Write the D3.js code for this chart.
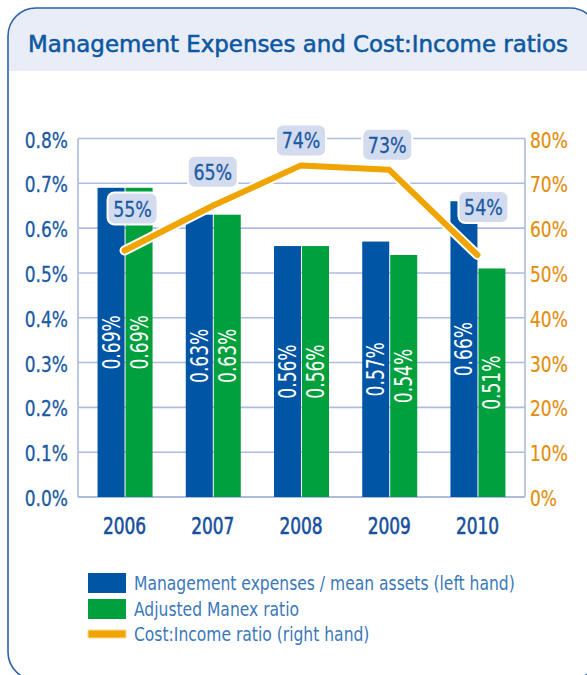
<!DOCTYPE html>
<html><head><meta charset="utf-8">
<script src="https://cdn.jsdelivr.net/npm/d3@7"></script>
<style>
html,body{margin:0;padding:0;background:#fff;}
svg{display:block;}
</style></head>
<body>
<svg id="chart" width="587" height="675"></svg>
<script>
const years = ["2006","2007","2008","2009","2010"];
const manex = [0.69, 0.63, 0.56, 0.57, 0.66];
const adjManex = [0.69, 0.63, 0.56, 0.54, 0.51];
const costIncome = [55, 65, 74, 73, 54];
const leftTicks = [0, 0.1, 0.2, 0.3, 0.4, 0.5, 0.6, 0.7, 0.8];
const rightTicks = [0, 10, 20, 30, 40, 50, 60, 70, 80];
const legendLabels = ["Management expenses / mean assets (left hand)", "Adjusted Manex ratio", "Cost:Income ratio (right hand)"];
const labelDx = [8, 0, 0, -2, 6];
const labelDy = [-42, -34, -25, -25, -48];

const C = {blue:"#0055a4", green:"#00a03c", orange:"#f0a400", axisOrange:"#e48d0a",
  text:"#1a5aa3", grid:"#aebbe0", header:"#e9edf7", border:"#2c62aa", bubble:"#d3dbef", legendText:"#3b78bb"};
const NARROW = "'DejaVu Sans Condensed','Liberation Sans Narrow',sans-serif";

// horizontally condense a text element (keeps its anchor point)
function condense(sel, sx) {
  sel.each(function(){
    const t = d3.select(this);
    const xv = +t.attr("x") || 0;
    const yv = +t.attr("y") || 0;
    t.attr("x", 0).attr("y", 0);
    const prev = t.attr("transform") || "";
    t.attr("transform", `${prev} translate(${xv},${yv}) scale(${sx},1)`);
  });
}

const svg = d3.select("#chart");
// panel
svg.append("rect").attr("x",8).attr("y",8).attr("width",590).attr("height",672).attr("rx",28).attr("fill","#fff");
svg.append("path").attr("d","M8,71 L8,36 Q8,8 36,8 L570,8 Q598,8 598,36 L598,71 Z").attr("fill",C.header);
svg.append("rect").attr("x",8).attr("y",8).attr("width",590).attr("height",672).attr("rx",28)
  .attr("fill","none").attr("stroke",C.border).attr("stroke-width",1.6);

svg.append("text").attr("x",298).attr("y",52).attr("text-anchor","middle")
  .attr("font-family","'DejaVu Sans Condensed','DejaVu Sans',sans-serif").attr("font-size",22.5)
  .attr("textLength",540).attr("lengthAdjust","spacingAndGlyphs")
  .attr("fill","#0d58a2").attr("stroke","#0d58a2").attr("stroke-width",0.5)
  .text("Management Expenses and Cost:Income ratios");

const plotL = 78, plotR = 525;
const x = d3.scaleBand().domain(years).range([80, 522]).paddingInner(0.39).paddingOuter(0.2);
const yL = d3.scaleLinear().domain([0, 0.8]).range([497, 138.5]);
const yR = d3.scaleLinear().domain([0, 80]).range([497, 138.5]);
const bw = 27;

// grid
svg.append("g").selectAll("line").data(leftTicks).join("line")
  .attr("x1",plotL).attr("x2",plotR).attr("y1",d=>yL(d)).attr("y2",d=>yL(d))
  .attr("stroke",C.grid).attr("stroke-width",d=>d===0?2.2:1.6);
svg.append("line").attr("x1",plotL).attr("x2",plotL).attr("y1",yL(0.8)).attr("y2",yL(0)).attr("stroke",C.grid).attr("stroke-width",1.6);
svg.append("line").attr("x1",plotR).attr("x2",plotR).attr("y1",yL(0.8)).attr("y2",yL(0)).attr("stroke",C.grid).attr("stroke-width",1.6);

// axes labels via d3 axes
const axL = svg.append("g").attr("transform",`translate(${plotL},0)`)
  .call(d3.axisLeft(yL).tickValues(leftTicks).tickSize(0).tickPadding(10).tickFormat(d=>d3.format(".1f")(d)+"%"));
axL.select(".domain").remove();
axL.selectAll("text").attr("font-family",NARROW).attr("font-size",21.5).attr("fill",C.text)
  .attr("stroke",C.text).attr("stroke-width",0.3).attr("dy","0.4em");
condense(axL.selectAll("text"), 0.88);

const axR = svg.append("g").attr("transform",`translate(${plotR},0)`)
  .call(d3.axisRight(yR).tickValues(rightTicks).tickSize(0).tickPadding(5).tickFormat(d=>d+"%"));
axR.select(".domain").remove();
axR.selectAll("text").attr("font-family",NARROW).attr("font-size",21.5).attr("fill",C.axisOrange)
  .attr("stroke",C.axisOrange).attr("stroke-width",0.2).attr("dy","0.4em");
condense(axR.selectAll("text"), 0.88);

const axB = svg.append("g").attr("transform",`translate(0,${yL(0)})`)
  .call(d3.axisBottom(x).tickSize(0).tickPadding(21));
axB.select(".domain").remove();
axB.selectAll("text").attr("font-family",NARROW).attr("font-size",23).attr("fill","#17509c")
  .attr("stroke","#17509c").attr("stroke-width",0.6);
condense(axB.selectAll("text"), 0.82);

// bars
const cx = d => x(d) + x.bandwidth()/2;
const series = [{vals:manex,color:C.blue,off:-bw},{vals:adjManex,color:C.green,off:1}];
series.forEach(s=>{
  const g = svg.append("g");
  g.selectAll("rect").data(years).join("rect")
    .attr("x",(d)=>cx(d)+s.off).attr("width",bw)
    .attr("y",(d,i)=>yL(s.vals[i])).attr("height",(d,i)=>yL(0)-yL(s.vals[i]))
    .attr("fill",s.color);
  g.selectAll("text").data(years).join("text")
    .attr("transform",(d,i)=>`translate(${cx(d)+s.off+bw/2+8.5},${(yL(s.vals[i])+yL(0))/2}) rotate(-90) scale(0.76,1)`)
    .attr("text-anchor","middle")
    .attr("font-family",NARROW).attr("font-size",25).attr("fill","#fff")
    .text((d,i)=>d3.format(".2f")(s.vals[i])+"%");
});

// line
const line = d3.line().x(d=>cx(d.y)).y(d=>yR(d.v));
const pts = years.map((y,i)=>({y, v:costIncome[i]}));
svg.append("path").datum(pts).attr("d",line).attr("fill","none")
  .attr("stroke","#fff").attr("stroke-width",10).attr("stroke-linejoin","round").attr("stroke-linecap","round");
svg.append("path").datum(pts).attr("d",line).attr("fill","none")
  .attr("stroke",C.orange).attr("stroke-width",6).attr("stroke-linejoin","round").attr("stroke-linecap","round");

// bubbles
const bg = svg.append("g").selectAll("g").data(pts).join("g")
  .attr("transform",(d,i)=>`translate(${cx(d.y)+labelDx[i]},${yR(d.v)+labelDy[i]})`);
bg.append("rect").attr("x",-25).attr("y",-16).attr("width",50).attr("height",32).attr("rx",7)
  .attr("fill",C.bubble).attr("stroke","#fff").attr("stroke-width",2);
bg.append("text").attr("text-anchor","middle").attr("transform","translate(0,8) scale(0.88,1)")
  .attr("font-family",NARROW).attr("font-size",22).attr("fill",C.text)
  .attr("stroke",C.text).attr("stroke-width",0.3)
  .text(d=>d.v+"%");

// legend
const lg = svg.append("g");
const lgY = [583, 609, 634];
lg.append("rect").attr("x",88).attr("y",lgY[0]-10).attr("width",38).attr("height",20).attr("fill",C.blue);
lg.append("rect").attr("x",88).attr("y",lgY[1]-10).attr("width",38).attr("height",20).attr("fill",C.green);
lg.append("rect").attr("x",88).attr("y",lgY[2]-4).attr("width",38).attr("height",8).attr("fill",C.orange)
  .attr("stroke","#fbdc98").attr("stroke-width",1);
const lt = lg.selectAll("text").data(legendLabels).join("text")
  .attr("x",134).attr("y",(d,i)=>lgY[i]+7)
  .attr("font-family",NARROW).attr("font-size",19).attr("fill",C.legendText)
  .text(d=>d);
condense(lt, 0.91);
</script>
</body></html>
